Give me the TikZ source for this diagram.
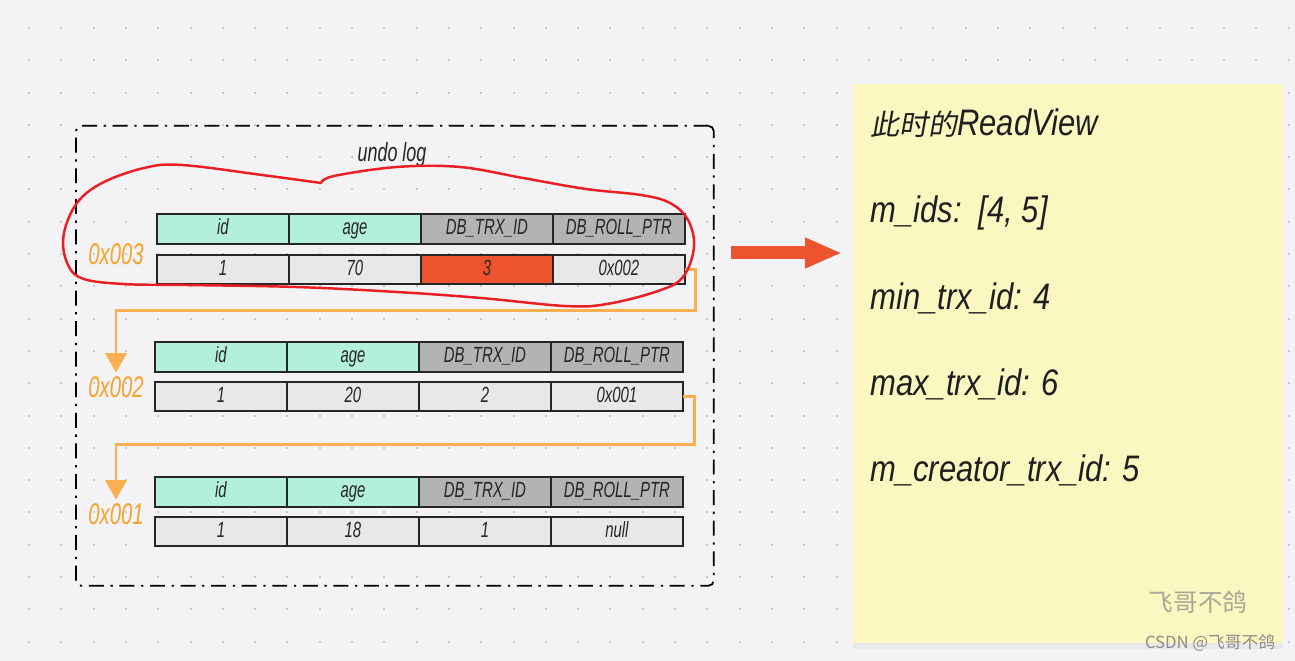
\documentclass[tikz,border=0pt]{standalone}
\usepackage{fontspec}
\setmainfont{Liberation Sans}
\newfontfamily\condfont{Liberation Sans}[FakeStretch=0.68]
\newfontfamily\panelfont{Liberation Sans}[FakeStretch=0.84]
\newfontfamily\cjkslant{Noto Sans CJK SC}[FakeSlant=0.18]
\newfontfamily\cjkup{Noto Sans CJK SC}
\definecolor{canvasbg}{RGB}{243, 243, 245}
\definecolor{griddot}{RGB}{200, 200, 205}
\definecolor{mintkey}{RGB}{179, 240, 220}
\definecolor{sysgray}{RGB}{179, 179, 179}
\definecolor{cellgray}{RGB}{232, 232, 232}
\definecolor{hotred}{RGB}{238, 83, 48}
\definecolor{ptrorange}{RGB}{250, 175, 80}
\definecolor{addrorange}{RGB}{247, 162, 40}
\definecolor{inkred}{RGB}{235, 30, 35}
\definecolor{noteyellow}{RGB}{250, 247, 192}
\definecolor{markgray}{RGB}{168, 168, 152}
\usetikzlibrary{arrows.meta, positioning, shadows}

\begin{document}
\begin{tikzpicture}[x=0.02cm, y=-0.02cm,
  cellbase/.style={draw=black!85, line width=1pt, outer sep=0pt, inner sep=0pt,
    minimum width=2.64cm, text height=9pt, text depth=2.6pt, text=black!85,
    font=\condfont\itshape\fontsize{12.5}{14}\selectfont},
  keycell/.style={cellbase, fill=mintkey, minimum height=0.6cm},
  syscell/.style={cellbase, fill=sysgray, minimum height=0.6cm},
  datacell/.style={cellbase, fill=cellgray, minimum height=0.58cm},
  hotcell/.style={datacell, fill=hotred},
  addr/.style={text=addrorange, inner sep=2pt, font=\condfont\itshape\fontsize{17}{19}\selectfont},
  ptr/.style={draw=ptrorange, line width=1.7pt, -{Triangle[width=12pt, length=11pt]}},
  rvline/.style={anchor=base west, inner sep=0pt, text=black!88, font=\panelfont\itshape\fontsize{21}{24}\selectfont}]

  % canvas
  \fill[canvasbg] (0,0) rectangle (1295,661);
  \useasboundingbox (0,0) rectangle (1295,661);
  \foreach \i in {0,...,39}
    \foreach \j in {0,...,19}
      \fill[griddot] (28+\i*32.3, 27+\j*32.3) rectangle ++(2,2);

  % undo log frame
  \node[draw=black, line width=1pt, rounded corners=3pt, dash pattern=on 8.5pt off 3.8pt on 1.3pt off 3.8pt,
    minimum width=12.76cm, minimum height=9.2cm, anchor=north west] (undobox) at (75,125) {};
  \node[font=\condfont\itshape\fontsize{15}{17}\selectfont, text=black!85] (title) at (392,155) {undo log};

  % rows of the version chain
  \foreach \r/\xx/\hy/\dy/\va/\vb/\vc/\vd/\fc in {1/157/214/255/1/70/3/0x002/hotcell,
      2/155/342/382/1/20/2/0x001/datacell, 3/155/477/517/1/18/1/null/datacell} {
    \node[keycell, anchor=north west] (h\r1) at (\xx,\hy) {id};
    \node[keycell, right=0pt of h\r1] (h\r2) {age};
    \node[syscell, right=0pt of h\r2] (h\r3) {DB\_TRX\_ID};
    \node[syscell, right=0pt of h\r3] (h\r4) {DB\_ROLL\_PTR};
    \node[datacell, anchor=north west] (d\r1) at (\xx,\dy) {\va};
    \node[datacell, right=0pt of d\r1] (d\r2) {\vb};
    \node[\fc, right=0pt of d\r2] (d\r3) {\vc};
    \node[datacell, right=0pt of d\r3] (d\r4) {\vd};
  }

  % addresses
  \node[addr] (a1) at (116,254) {0x003};
  \node[addr] (a2) at (116,387) {0x002};
  \node[addr] (a3) at (116,514) {0x001};

  % roll pointers
  \draw[ptr] (d14.east) -- ++(11,0) -- ++(0,41) -| (a2.north);
  \draw[ptr] (d24.east) -- ++(12,0) -- ++(0,48) -| (a3.north);

  % hand-drawn mark
  \draw[inkred, line width=1.4pt, line cap=round, line join=round] plot[smooth, tension=0.6] coordinates {
    (321,183) (262,175) (182,165) (144,168) (102,183) (77,203) (64,233) (66,260)
    (81,278) (123,284) (186,285) (296,287) (397,292) (481,298) (565,306) (607,304)
    (658,291) (683,277) (694,247) (688,220) (670,203) (641,195) (586,189) (523,178)
    (460,167) (397,167) (334,176) (321,183)};

  % read view
  \node[fill=noteyellow, minimum width=8.6cm, minimum height=11.18cm, anchor=north west,
    drop shadow={shadow xshift=0pt, shadow yshift=-3pt, opacity=0.08}] (rv) at (853,84) {};
  \node[rvline] (rv0) at (870,136) {{\cjkslant\fontsize{16.5}{20}\selectfont 此时的}ReadView};
  \node[rvline] (rv1) at (870,223) {m\_ids:\ \ [4, 5]};
  \node[rvline] (rv2) at (870,310) {min\_trx\_id: 4};
  \node[rvline] (rv3) at (870,396) {max\_trx\_id: 6};
  \node[rvline] (rv4) at (870,482) {m\_creator\_trx\_id: 5};
  \node[text=markgray, font=\cjkup\fontsize{14}{16}\selectfont] (mark) at (1198,602) {飞哥不鸽};
  \node[text=black!45, font=\cjkup\fontsize{9.5}{11}\selectfont] (csdn) at (1210,643) {CSDN @飞哥不鸽};

  % to the read view
  \coordinate (arrs) at (731,253);
  \coordinate (arre) at (842,253);
  \draw[hotred, line width=7.4pt, -{Triangle[width=16pt, length=21pt]}] (arrs) -- (arre);
\end{tikzpicture}
\end{document}
